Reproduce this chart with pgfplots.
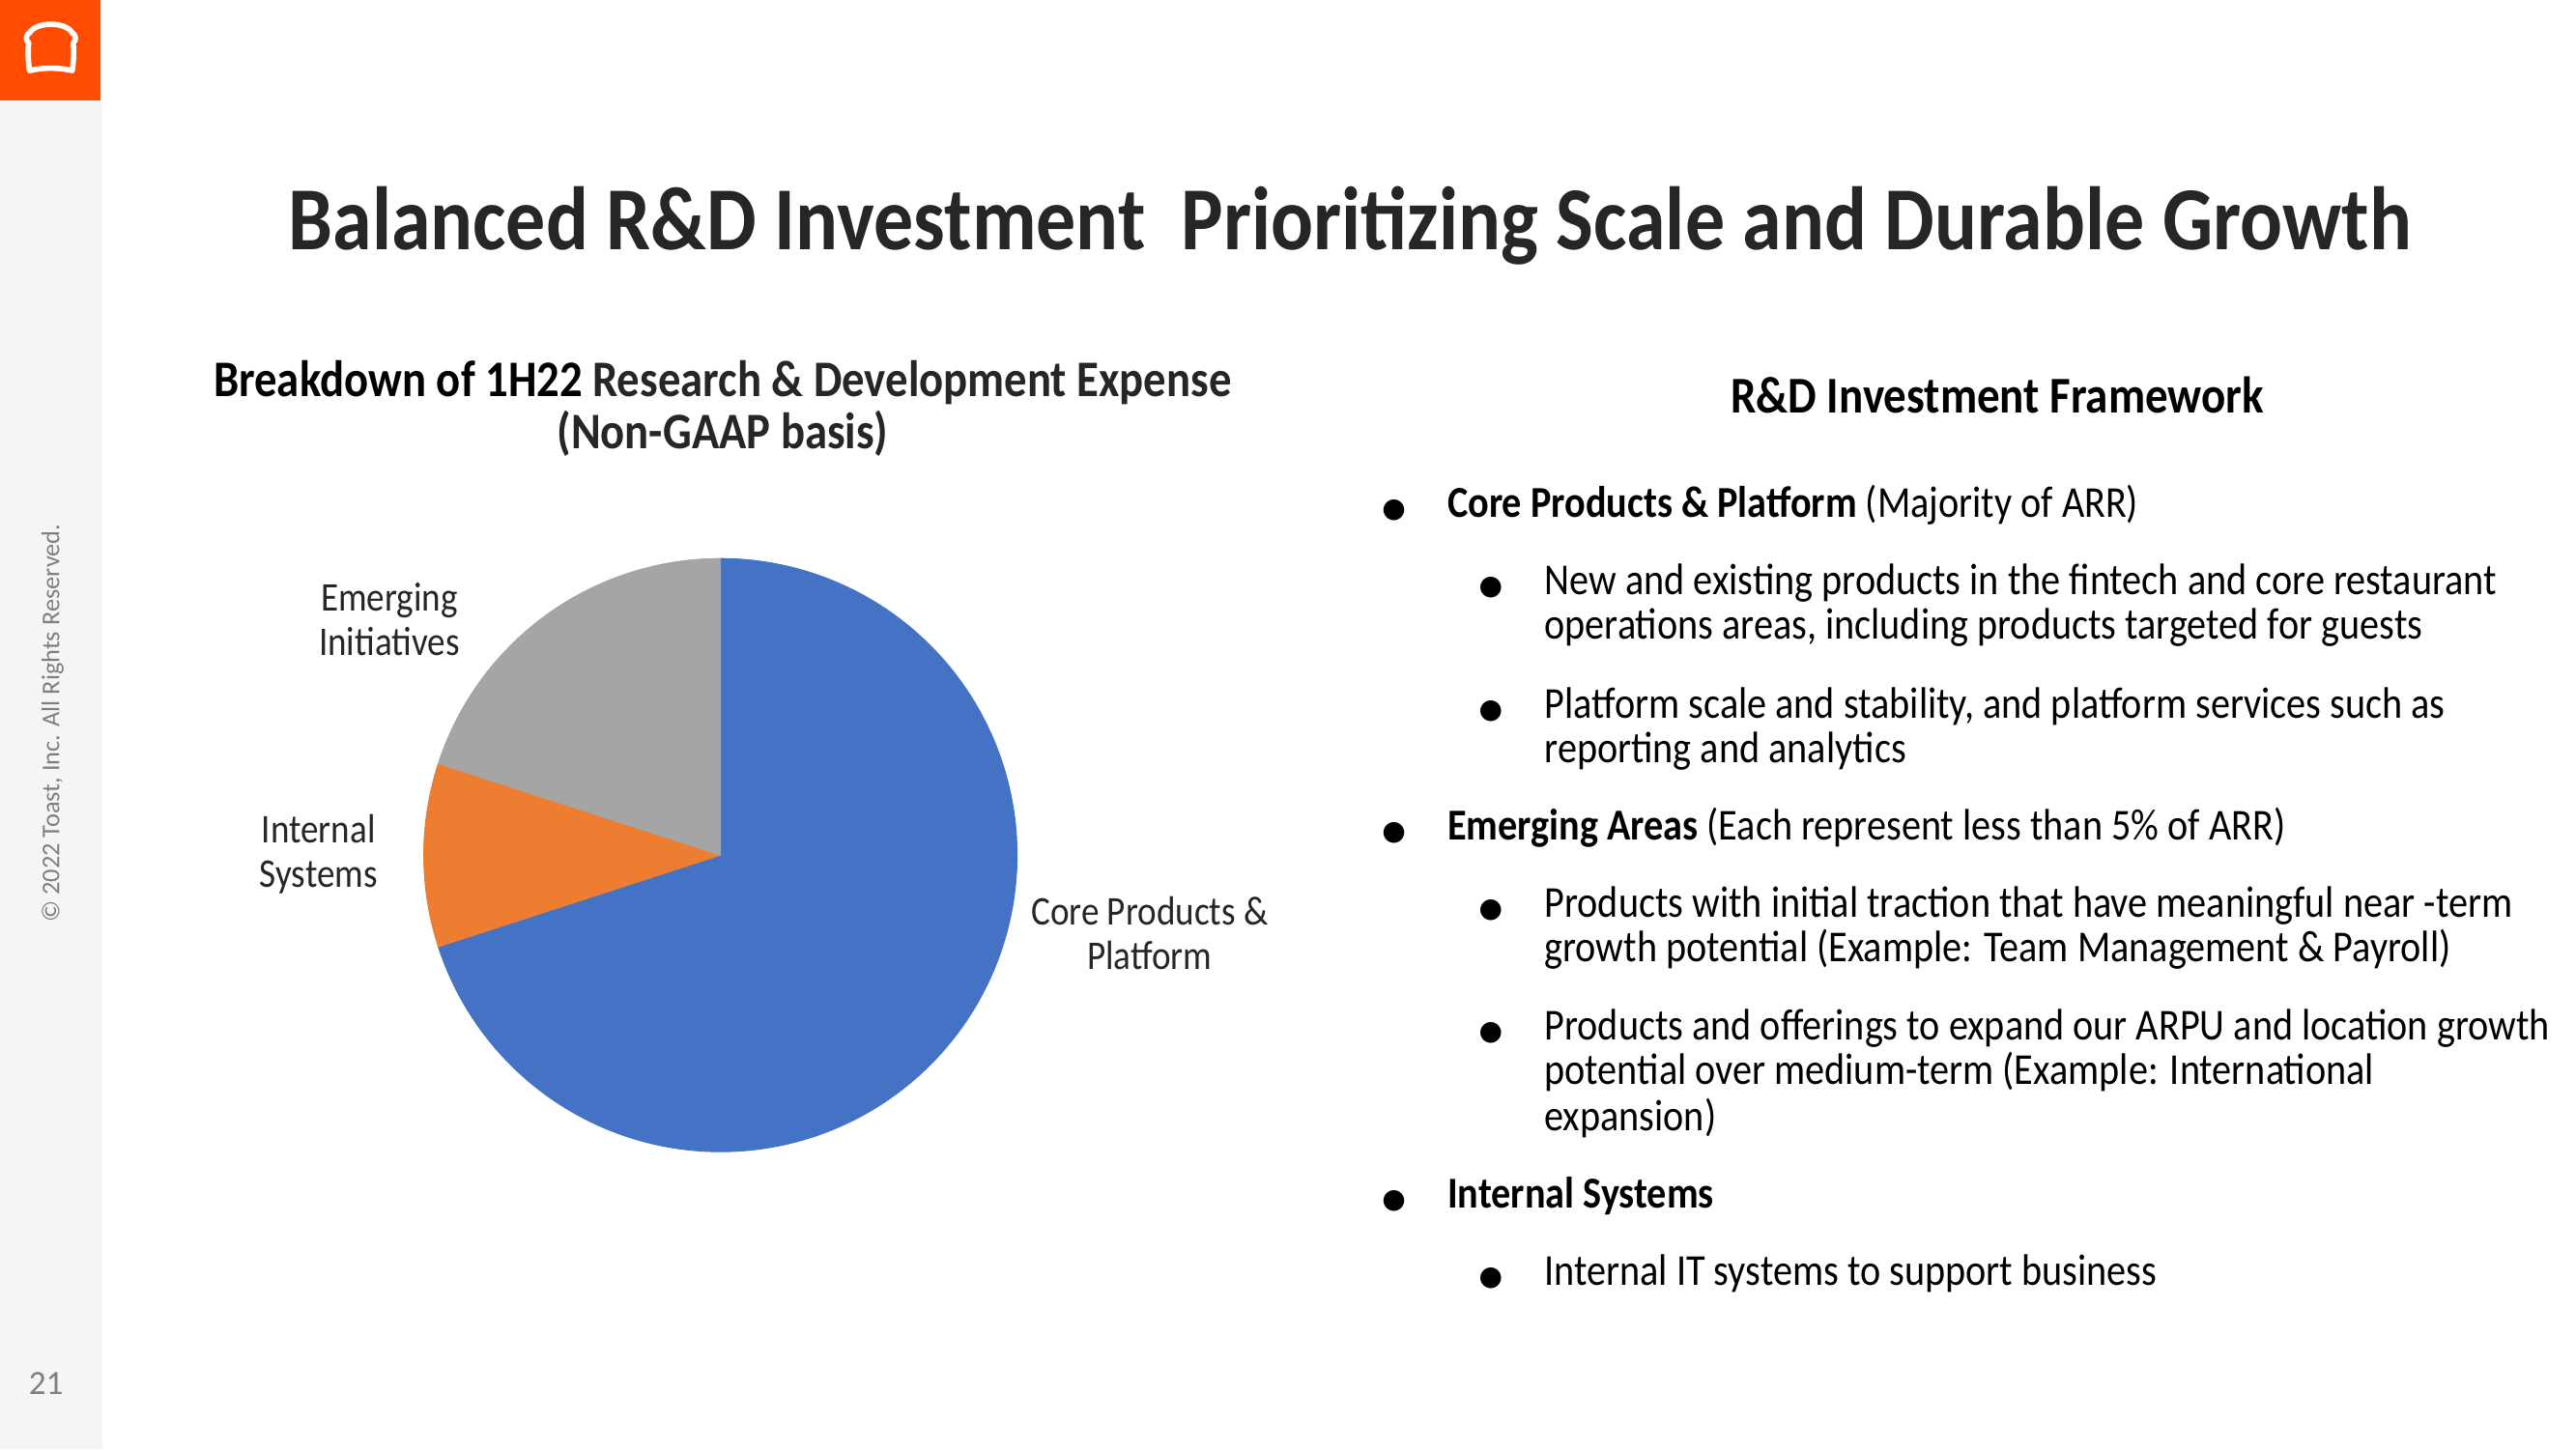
\documentclass[border=0pt]{standalone}
\usepackage{pgfplots}
\usepackage{pgfplotstable}
\pgfplotsset{compat=1.18}
\usepackage{fontspec}
\setmainfont[FakeStretch=0.88]{Carlito}
\newfontfamily\plainfont{Carlito}
\newfontfamily\symfont{DejaVu Sans}
\definecolor{pieblue}{HTML}{4472C4}
\definecolor{pieorange}{HTML}{ED7D31}
\definecolor{piegray}{HTML}{A5A5A5}
\definecolor{toastorange}{HTML}{FF4C00}
\definecolor{sidegray}{HTML}{F5F5F5}
\definecolor{titlegray}{HTML}{262626}
\definecolor{footgray}{HTML}{7F7F7F}

\pgfplotstableread{
name value
Core 70
Internal 10
Emerging 20
}\piedata

\newcommand{\bul}{{\symfont\fontsize{8}{8}\selectfont ●}}

\begin{document}
\begin{tikzpicture}
\useasboundingbox (0,0) rectangle (26.66,15);
\pgfplotstablegetelem{0}{value}\of\piedata \pgfmathsetmacro{\vA}{\pgfplotsretval}
\pgfplotstablegetelem{1}{value}\of\piedata \pgfmathsetmacro{\vB}{\pgfplotsretval}
\pgfplotstablegetelem{2}{value}\of\piedata \pgfmathsetmacro{\vC}{\pgfplotsretval}
\pgfmathsetmacro{\cA}{\vA}
\pgfmathsetmacro{\cB}{\vA+\vB}
\pgfmathsetmacro{\cC}{\vA+\vB+\vC}

\fill[white] (0,0) rectangle (26.66,15);
\fill[sidegray] (0,0) rectangle (1.06,15);
\fill[toastorange] (0,13.96) rectangle (1.04,15);

\begin{scope}[x=0.017003cm,y=-0.017007cm,yshift=15cm]
% logo
\draw[white, line width=1.6pt, line join=round]
  (18,43) .. controls (17,36) and (17,30) .. (17.5,26)
  .. controls (15.5,25) and (15.5,21) .. (18,20)
  .. controls (22,13) and (40,13) .. (44,20)
  .. controls (46.5,21) and (46.5,25) .. (44.5,26)
  .. controls (45,30) and (45,36) .. (44,43)
  .. controls (36,41) and (26,41) .. (18,43) -- cycle;
% side texts
\node[rotate=90, text=footgray, font=\plainfont\fontsize{7.5}{9}\selectfont, inner sep=0] at (32,440) {© 2022 Toast, Inc. All Rights Reserved.};
\node[text=footgray, font=\plainfont\fontsize{10}{12}\selectfont, inner sep=0] at (28,842) {21};
% main title
\node[anchor=base, inner sep=0, text=titlegray, font=\bfseries\fontsize{26.5}{30}\selectfont] at (822,152) {Balanced R\&D Investment\ \ Prioritizing Scale and Durable Growth};
% chart title
\node[anchor=base, inner sep=0, font=\bfseries\fontsize{15.1}{18}\selectfont] at (440,241) {Breakdown of 1H22 \textcolor{titlegray}{Research \& Development\ Expense}};
\node[anchor=base, inner sep=0, text=titlegray, font=\bfseries\fontsize{15.1}{18}\selectfont] at (440,273) {(Non-GAAP basis)};
% pie labels
\begin{scope}[every node/.style={anchor=base, inner sep=0, font=\fontsize{12}{14}\selectfont, text=titlegray}]
\node at (237,372) {Emerging};
\node at (237,399) {Initiatives};
\node at (194,513) {Internal};
\node at (194,540) {Systems};
\node at (700,563) {Core Products \&};
\node at (700,590) {Platform};
\end{scope}
% right heading
\node[anchor=base, inner sep=0, font=\bfseries\fontsize{15.2}{18}\selectfont] at (1216,251) {R\&D Investment\ Framework};
% bullets
\begin{scope}[every node/.style={anchor=base west, inner sep=0, font=\fontsize{13}{16}\selectfont}]
\node at (841,315) {\bul};
\node at (881,315) {\textbf{Core Products \& Platform} (Majority of ARR)};
\node at (900,362) {\bul};
\node at (940,362) {New and existing products in the fintech and core restaurant};
\node at (940,389) {operations areas, including products targeted for guests};
\node at (900,437) {\bul};
\node at (940,437) {Platform scale and stability, and platform services such as};
\node at (940,464) {reporting and analytics};
\node at (841,511) {\bul};
\node at (881,511) {\textbf{Emerging Areas} (Each represent less than 5\% of ARR)};
\node at (900,558) {\bul};
\node at (940,558) {Products with initial traction that have meaningful near -term};
\node at (940,585) {growth potential (Example: Team Management \& Payroll)};
\node at (900,633) {\bul};
\node at (940,633) {Products and offerings to expand our ARPU and location growth};
\node at (940,660) {potential over medium-term (Example: International};
\node at (940,688) {expansion)};
\node at (841,735) {\bul};
\node at (881,735) {\textbf{Internal Systems}};
\node at (900,782) {\bul};
\node at (940,782) {Internal IT systems to support business};
\end{scope}
\end{scope}

\begin{axis}[at={(7.456cm,6.148cm)}, anchor=center, scale only axis,
  width=6.14cm, height=6.14cm, xmin=-1, xmax=1, ymin=-1, ymax=1,
  hide axis, clip=false]
\addplot[draw=pieblue, fill=pieblue, line width=0.3pt, domain=0:\cA, samples=150, variable=\t]
  ({cos(90-3.6*\t)}, {sin(90-3.6*\t)}) -- (axis cs:0,0) -- cycle;
\addplot[draw=pieorange, fill=pieorange, line width=0.3pt, domain=\cA:\cB, samples=30, variable=\t]
  ({cos(90-3.6*\t)}, {sin(90-3.6*\t)}) -- (axis cs:0,0) -- cycle;
\addplot[draw=piegray, fill=piegray, line width=0.3pt, domain=\cB:\cC, samples=50, variable=\t]
  ({cos(90-3.6*\t)}, {sin(90-3.6*\t)}) -- (axis cs:0,0) -- cycle;
\end{axis}
\end{tikzpicture}
\end{document}
